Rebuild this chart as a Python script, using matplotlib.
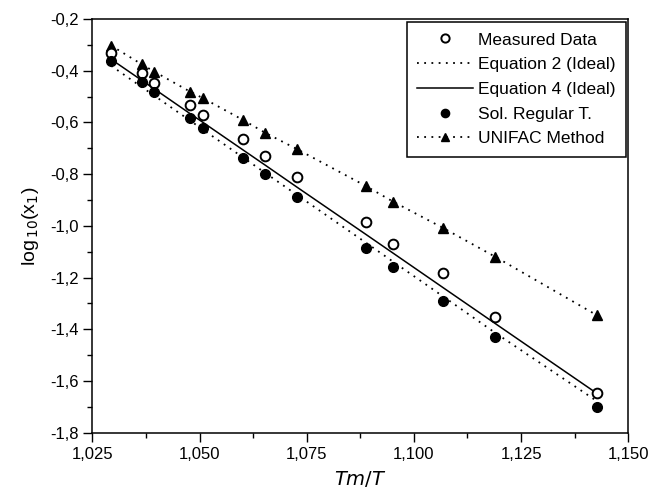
import matplotlib
matplotlib.use('Agg')
import matplotlib.pyplot as plt
from matplotlib.ticker import MultipleLocator, FuncFormatter

plt.rcParams['font.family'] = ['Liberation Sans', 'DejaVu Sans']

# Tm/T values
tm_t = [1.0294, 1.0365, 1.0395, 1.0478, 1.0509, 1.0602, 1.0653,
        1.0727, 1.0888, 1.0951, 1.1069, 1.1189, 1.1426]

measured = [-0.330, -0.408, -0.449, -0.534, -0.571, -0.665, -0.729,
            -0.810, -0.984, -1.070, -1.183, -1.351, -1.645]
sol_regular = [-0.361, -0.445, -0.481, -0.584, -0.620, -0.739, -0.800,
               -0.887, -1.084, -1.158, -1.290, -1.429, -1.700]
unifac = [-0.303, -0.375, -0.404, -0.481, -0.507, -0.591, -0.640,
          -0.703, -0.846, -0.906, -1.009, -1.119, -1.345]
eq4 = [-0.356, -0.437, -0.471, -0.566, -0.601, -0.707, -0.765,
       -0.850, -1.033, -1.105, -1.240, -1.377, -1.647]
eq2 = [-0.381, -0.463, -0.497, -0.593, -0.629, -0.736, -0.795,
       -0.880, -1.065, -1.138, -1.274, -1.413, -1.677]

fig = plt.figure(figsize=(6.51, 4.93), dpi=100)
ax = fig.add_axes([0.1418, 0.1223, 0.8233, 0.8392])

dots = (0, (1, 3))
ax.plot(tm_t, eq2, color='k', linestyle=dots, linewidth=1.3, label='Equation 2 (Ideal)')
ax.plot(tm_t, eq4, color='k', linestyle='-', linewidth=1.1, label='Equation 4 (Ideal)')
ax.plot(tm_t, unifac, color='k', linestyle=dots, linewidth=1.3, marker='^',
        markersize=7, label='UNIFAC Method')
ax.plot(tm_t, measured, linestyle='none', marker='o', markersize=7,
        markerfacecolor='white', markeredgecolor='k', markeredgewidth=1.4,
        label='Measured Data')
ax.plot(tm_t, sol_regular, linestyle='none', marker='o', markersize=7,
        color='k', label='Sol. Regular T.')

ax.set_xlim(1.025, 1.150)
ax.set_ylim(-1.8, -0.2)
ax.xaxis.set_major_locator(MultipleLocator(0.025))
ax.xaxis.set_minor_locator(MultipleLocator(0.0125))
ax.yaxis.set_major_locator(MultipleLocator(0.2))
ax.yaxis.set_minor_locator(MultipleLocator(0.1))
ax.xaxis.set_major_formatter(FuncFormatter(lambda v, p: f'{v:.3f}'.replace('.', ',')))
ax.yaxis.set_major_formatter(FuncFormatter(lambda v, p: f'{v:.1f}'.replace('.', ',')))

ax.tick_params(which='both', direction='out', top=False, right=False,
               labelsize=12, width=1, colors='k')
ax.tick_params(which='major', length=6.5)
ax.tick_params(which='minor', length=3.5)
for s in ax.spines.values():
    s.set_linewidth(1.1)

ax.set_xlabel('$\\mathit{Tm/T}$', fontsize=14, labelpad=5)
ax.set_ylabel('log$_{\\,10}$(x$_1$)', fontsize=14, labelpad=6)

handles, labels = ax.get_legend_handles_labels()
order = ['Measured Data', 'Equation 2 (Ideal)', 'Equation 4 (Ideal)',
         'Sol. Regular T.', 'UNIFAC Method']
hmap = dict(zip(labels, handles))
leg = ax.legend([hmap[k] for k in order], order, loc='upper right',
                bbox_to_anchor=(626 / 651, 1 - 22 / 493),
                bbox_transform=fig.transFigure, borderaxespad=0,
                fontsize=12.5, frameon=True, fancybox=False, shadow=False,
                handlelength=3.2, handletextpad=0.3, labelspacing=0.55,
                borderpad=0.6, markerscale=0.85)
leg.get_frame().set_edgecolor('k')
leg.get_frame().set_linewidth(1.1)
leg.get_frame().set_alpha(1)

fig.savefig('out.png', dpi=100)
